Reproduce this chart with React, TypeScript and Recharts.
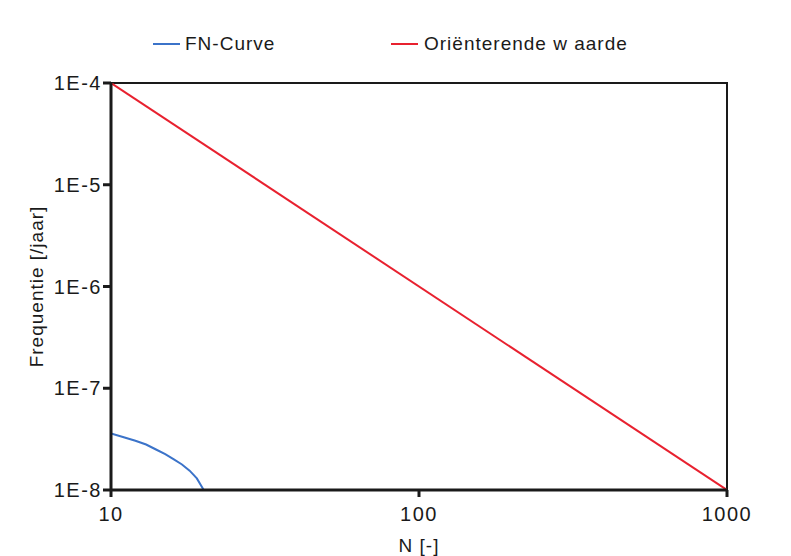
import {
  LineChart,
  Line,
  XAxis,
  YAxis,
  Legend,
  ReferenceArea,
} from 'recharts';

// FN-curve (stapjes per N) en de oriënterende waarde
const fnN = [10, 11, 12, 13, 14, 15, 16, 17, 18, 19, 20];
const fnFreq = [3.6e-8, 3.3e-8, 3.05e-8, 2.8e-8, 2.5e-8, 2.25e-8, 2.0e-8, 1.78e-8, 1.55e-8, 1.3e-8, 1.0e-8];

const owN = [10, 1000];
const owFreq = [1e-4, 1e-8];

const xTicks = [10, 100, 1000];
const yTicks = [1e-8, 1e-7, 1e-6, 1e-5, 1e-4];

const fnData = fnN.map((n, i) => ({ n, f: fnFreq[i] }));
const owData = owN.map((n, i) => ({ n, f: owFreq[i] }));

const font = 'Liberation Sans, Arial, sans-serif';
const ink = '#1a1a1a';
const txt = { fill: ink, fontSize: 19, letterSpacing: 1 };
const tickTxt = { fill: ink, fontSize: 20, letterSpacing: 1.5 };

export default function App() {
  return (
    <div style={{ position: 'absolute', left: 0, top: 0, width: 791, height: 556, background: '#fff' }}>
      <LineChart
        width={791}
        height={556}
        margin={{ top: 30, right: 64, bottom: 0, left: 0 }}
        style={{ fontFamily: font }}
      >
        <XAxis
          type="number"
          dataKey="n"
          scale="log"
          domain={[10, 1000]}
          ticks={xTicks}
          allowDataOverflow
          stroke={ink}
          strokeWidth={3}
          tickSize={7}
          fontSize={20}
          tick={tickTxt}
          tickMargin={10}
          label={{ value: 'N [-]', position: 'insideBottom', offset: 4, ...txt }}
          height={66}
        />
        <YAxis
          type="number"
          scale="log"
          domain={[1e-8, 1e-4]}
          ticks={yTicks}
          allowDataOverflow
          width={111}
          stroke={ink}
          strokeWidth={3}
          tickSize={8}
          tickMargin={1}
          fontSize={20}
          tick={tickTxt}
          tickFormatter={(v: number) => '1E' + Math.round(Math.log10(v))}
          label={{
            value: 'Frequentie [/jaar]',
            angle: -90,
            position: 'insideLeft',
            offset: 36,
            style: { textAnchor: 'middle' },
            ...txt,
          }}
        />
        <ReferenceArea
          x1={10}
          x2={1000}
          y1={1e-8}
          y2={1e-4}
          fill="none"
          stroke={ink}
          strokeWidth={2}
          ifOverflow="visible"
        />
        <Legend
          verticalAlign="top"
          height={53}
          content={() => (
            <div style={{ position: 'relative', height: 53, fontFamily: font, fontSize: 19, letterSpacing: 1, color: ink }}>
              <div style={{ position: 'absolute', left: 153, top: 3, display: 'flex', alignItems: 'center' }}>
                <span style={{ display: 'inline-block', width: 27, height: 2, background: '#3b73c9', marginRight: 5 }} />
                FN-Curve
              </div>
              <div style={{ position: 'absolute', left: 391, top: 3, display: 'flex', alignItems: 'center' }}>
                <span style={{ display: 'inline-block', width: 27, height: 2, background: '#e8212f', marginRight: 6 }} />
                Oriënterende w aarde
              </div>
            </div>
          )}
        />
        <Line
          data={owData}
          dataKey="f"
          name="Oriënterende w aarde"
          stroke="#e8212f"
          strokeWidth={2}
          dot={false}
          isAnimationActive={false}
        />
        <Line
          data={fnData}
          dataKey="f"
          name="FN-Curve"
          stroke="#3b73c9"
          strokeWidth={2}
          dot={false}
          isAnimationActive={false}
        />
      </LineChart>
    </div>
  );
}
